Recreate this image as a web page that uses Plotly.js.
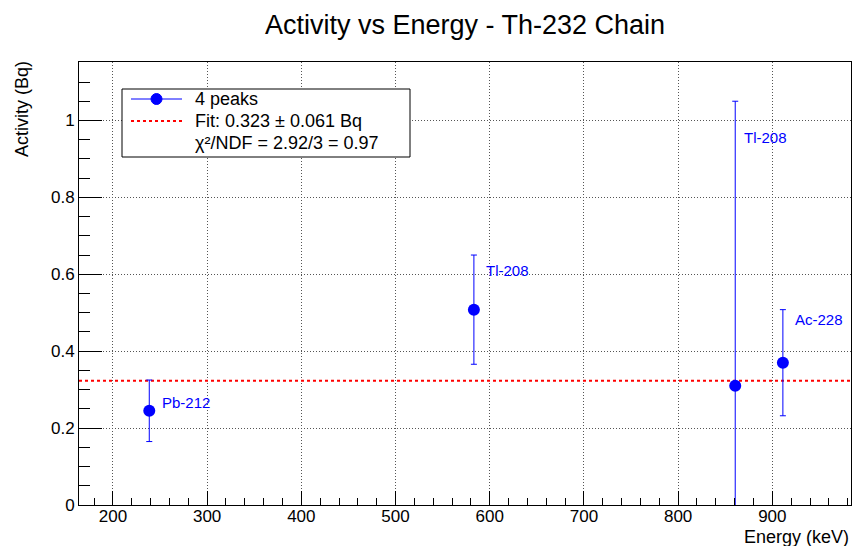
<!DOCTYPE html>
<html>
<head>
<meta charset="utf-8">
<script src="https://cdn.plot.ly/plotly-3.0.1.min.js"></script>
<style>html,body{margin:0;padding:0;background:#fff;}#chart{width:854px;height:546px;}</style>
</head>
<body>
<div id="chart"></div>
<script>
// Data
const isotopes = ["Pb-212", "Tl-208", "Tl-208", "Ac-228"];
const energies = [238.6, 583.2, 860.6, 911.2];
const activities = [0.245, 0.508, 0.310, 0.370];
const activityErrors = [0.080, 0.142, 0.740, 0.138];
const fitValue = 0.323;
const fitError = 0.061;
const chi2 = 2.92;
const ndf = 3;
const xRange = [164.0, 983.5];
const yRange = [0, 1.152];
// label offsets (pixels) relative to each point
const labelShiftX = [11, 10, 7, 10];
const labelShiftY = [8, 39, 248, 43];

const FONT = "Liberation Sans, Arial, Helvetica, sans-serif";
const BLUE = "#0000ff";
const W = 854, H = 546;
const M = {l: 79, r: 3, t: 62, b: 41};
const PW = W - M.l - M.r, PH = H - M.t - M.b;
const px = v => (v - M.l) / PW;          // pixel x -> paper x
const py = v => (H - M.b - v) / PH;      // pixel y -> paper y

const traces = [
  {
    type: "scatter", mode: "lines",
    name: "fit",
    x: xRange, y: [fitValue, fitValue],
    line: {color: "#ff0000", width: 2, dash: "dot"},
    showlegend: false, hoverinfo: "skip"
  },
  {
    type: "scatter", mode: "markers", name: "4 peaks",
    x: energies, y: activities,
    error_y: {type: "data", array: activityErrors, visible: true, color: BLUE, thickness: 1, width: 3},
    marker: {color: BLUE, size: 12, symbol: "circle"},
    showlegend: false
  }
];

const annotations = isotopes.map((name, i) => ({
  x: energies[i], y: activities[i], xref: "x", yref: "y",
  text: name, showarrow: false, xanchor: "left", yanchor: "middle",
  xshift: labelShiftX[i], yshift: labelShiftY[i],
  font: {family: FONT, size: 15, color: BLUE}
}));
annotations.push({
  x: 1, y: py(537), xref: "paper", yref: "paper", text: "Energy (keV)",
  showarrow: false, xanchor: "right", yanchor: "middle",
  font: {family: FONT, size: 18, color: "#000"}
});
annotations.push({
  x: px(22), y: py(109), xref: "paper", yref: "paper", text: "Activity (Bq)",
  showarrow: false, xanchor: "center", yanchor: "middle", textangle: -90,
  font: {family: FONT, size: 18, color: "#000"}
});

// Legend (drawn manually to match the boxed legend)
const legendTexts = [
  "4 peaks",
  "Fit: " + fitValue.toFixed(3) + " \u00b1 " + fitError.toFixed(3) + " Bq",
  "\u03c7\u00b2/NDF = " + chi2.toFixed(2) + "/" + ndf + " = " + (chi2 / ndf).toFixed(2)
];
const legendRowsY = [99, 121, 143];
legendTexts.forEach((t, i) => annotations.push({
  x: px(193), y: py(legendRowsY[i]), xref: "paper", yref: "paper", text: t,
  showarrow: false, xanchor: "left", yanchor: "middle",
  font: {family: FONT, size: 18, color: "#000"}
}));

const shapes = [
  {type: "rect", xref: "paper", yref: "paper", x0: px(122), x1: px(410), y0: py(89), y1: py(157),
   line: {color: "#000", width: 1}, fillcolor: "#fff", layer: "above"},
  {type: "line", xref: "paper", yref: "paper", x0: px(131), x1: px(182), y0: py(99), y1: py(99),
   line: {color: BLUE, width: 1}, layer: "above"},
  {type: "circle", xref: "paper", yref: "paper", xsizemode: "pixel", ysizemode: "pixel",
   xanchor: px(156.5), yanchor: py(99), x0: -5.5, x1: 5.5, y0: -5.5, y1: 5.5,
   line: {color: BLUE, width: 1}, fillcolor: BLUE, layer: "above"},
  {type: "line", xref: "paper", yref: "paper", x0: px(131), x1: px(182), y0: py(121), y1: py(121),
   line: {color: "#ff0000", width: 2, dash: "dot"}, layer: "above"}
];

const axisCommon = {
  showline: true, linecolor: "#000", linewidth: 1, mirror: true,
  ticks: "inside", tickcolor: "#000", tickwidth: 1,
  showgrid: true, gridcolor: "#555", griddash: "1px,2px", gridwidth: 1,
  zeroline: false,
  tickfont: {family: FONT, size: 17, color: "#000"}
};

const layout = {
  width: W, height: H,
  margin: M,
  paper_bgcolor: "#fff", plot_bgcolor: "#fff",
  font: {family: FONT, color: "#000"},
  title: {
    text: "Activity vs Energy - Th-232 Chain",
    x: 0.5, xref: "paper", xanchor: "center",
    y: 1 - 25 / H, yref: "container", yanchor: "middle",
    font: {family: FONT, size: 27, color: "#000"}
  },
  xaxis: Object.assign({}, axisCommon, {
    range: xRange, tick0: 0, dtick: 100, ticklen: 14, ticklabelstandoff: -4,
    minor: {dtick: 20, tick0: 0, ticks: "inside", ticklen: 7, tickcolor: "#000", showgrid: false}
  }),
  yaxis: Object.assign({}, axisCommon, {
    range: yRange, tick0: 0, dtick: 0.2, ticklen: 23,
    minor: {dtick: 0.05, tick0: 0, ticks: "inside", ticklen: 11, tickcolor: "#000", showgrid: false}
  }),
  annotations: annotations,
  shapes: shapes,
  showlegend: false
};

Plotly.newPlot("chart", traces, layout, {staticPlot: true, displayModeBar: false});
</script>
</body>
</html>
